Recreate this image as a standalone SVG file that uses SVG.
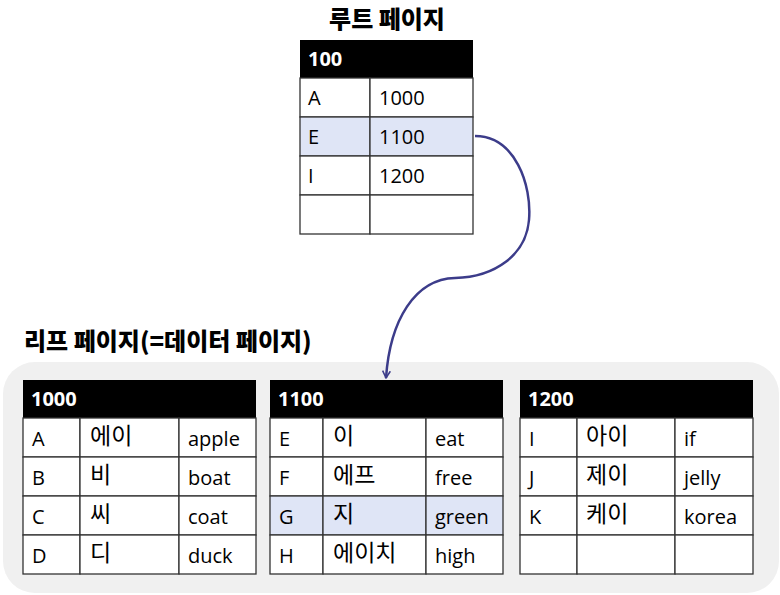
<svg xmlns="http://www.w3.org/2000/svg" width="780" height="595" viewBox="0 0 780 595">
<style>
.title{font-family:"Noto Sans CJK KR","Noto Sans",sans-serif;font-weight:900;font-size:24px;fill:#000}
.hd{fill:#000}
.hdt{font-family:"Open Sans","Noto Sans",sans-serif;font-weight:bold;font-size:20px;fill:#fff}
.cell{fill:#fff;stroke:#333;stroke-width:1.3}
.hl{fill:#dfe5f6;stroke:#333;stroke-width:1.3}
.t{font-family:"Open Sans","Noto Sans",sans-serif;font-size:20px;fill:#000}
.k{font-family:"Noto Sans CJK KR",sans-serif;font-size:23px;fill:#000}
.conn{fill:none;stroke:#3c3c8a;stroke-width:2.5}
</style>
<defs>
<marker id="arr" viewBox="0 0 14 14" refX="12" refY="7" markerWidth="9" markerHeight="9" orient="auto" markerUnits="userSpaceOnUse">
<path d="M1,1 L12,7 L1,13" fill="none" stroke="#3c3c8a" stroke-width="2.4"/>
</marker>
</defs>
<rect x="0" y="0" width="780" height="595" fill="#fff"/>

<text class="title" x="387" y="28" text-anchor="middle">루트 페이지</text>
<text class="title" x="24" y="350">리프 페이지(=데이터 페이지)</text>

<rect x="3" y="362" width="776" height="231" rx="32" fill="#f0f0f0"/>

<g id="root">
<rect class="hd" x="300" y="40" width="173" height="38"/>
<text class="hdt" x="308" y="66">100</text>
<rect class="cell" x="300" y="78" width="70" height="39"/><rect class="cell" x="370" y="78" width="103" height="39"/>
<rect class="hl" x="300" y="117" width="70" height="39"/><rect class="hl" x="370" y="117" width="103" height="39"/>
<rect class="cell" x="300" y="156" width="70" height="39"/><rect class="cell" x="370" y="156" width="103" height="39"/>
<rect class="cell" x="300" y="195" width="70" height="39"/><rect class="cell" x="370" y="195" width="103" height="39"/>
<text class="t" x="308" y="105">A</text><text class="t" x="379" y="105">1000</text>
<text class="t" x="308" y="144">E</text><text class="t" x="379" y="144">1100</text>
<text class="t" x="308" y="183">I</text><text class="t" x="379" y="183">1200</text>
</g>

<g id="leaf1000">
<rect class="hd" x="23" y="380" width="233" height="38"/>
<text class="hdt" x="31" y="406">1000</text>
<rect class="cell" x="23" y="418" width="57" height="39"/><rect class="cell" x="80" y="418" width="99" height="39"/><rect class="cell" x="179" y="418" width="77" height="39"/>
<rect class="cell" x="23" y="457" width="57" height="39"/><rect class="cell" x="80" y="457" width="99" height="39"/><rect class="cell" x="179" y="457" width="77" height="39"/>
<rect class="cell" x="23" y="496" width="57" height="39"/><rect class="cell" x="80" y="496" width="99" height="39"/><rect class="cell" x="179" y="496" width="77" height="39"/>
<rect class="cell" x="23" y="535" width="57" height="39"/><rect class="cell" x="80" y="535" width="99" height="39"/><rect class="cell" x="179" y="535" width="77" height="39"/>
<text class="t" x="32" y="446">A</text><text class="k" x="90" y="444">에이</text><text class="t" x="188" y="446">apple</text>
<text class="t" x="32" y="485">B</text><text class="k" x="90" y="483">비</text><text class="t" x="188" y="485">boat</text>
<text class="t" x="32" y="524">C</text><text class="k" x="90" y="522">씨</text><text class="t" x="188" y="524">coat</text>
<text class="t" x="32" y="563">D</text><text class="k" x="90" y="561">디</text><text class="t" x="188" y="563">duck</text>
</g>

<g id="leaf1100">
<rect class="hd" x="270" y="380" width="233" height="38"/>
<text class="hdt" x="278" y="406">1100</text>
<rect class="cell" x="270" y="418" width="53" height="39"/><rect class="cell" x="323" y="418" width="103" height="39"/><rect class="cell" x="426" y="418" width="77" height="39"/>
<rect class="cell" x="270" y="457" width="53" height="39"/><rect class="cell" x="323" y="457" width="103" height="39"/><rect class="cell" x="426" y="457" width="77" height="39"/>
<rect class="hl" x="270" y="496" width="53" height="39"/><rect class="hl" x="323" y="496" width="103" height="39"/><rect class="hl" x="426" y="496" width="77" height="39"/>
<rect class="cell" x="270" y="535" width="53" height="39"/><rect class="cell" x="323" y="535" width="103" height="39"/><rect class="cell" x="426" y="535" width="77" height="39"/>
<text class="t" x="279" y="446">E</text><text class="k" x="333" y="444">이</text><text class="t" x="435" y="446">eat</text>
<text class="t" x="279" y="485">F</text><text class="k" x="333" y="483">에프</text><text class="t" x="435" y="485">free</text>
<text class="t" x="279" y="524">G</text><text class="k" x="333" y="522">지</text><text class="t" x="435" y="524">green</text>
<text class="t" x="279" y="563">H</text><text class="k" x="333" y="561">에이치</text><text class="t" x="435" y="563">high</text>
</g>

<g id="leaf1200">
<rect class="hd" x="520" y="380" width="233" height="38"/>
<text class="hdt" x="528" y="406">1200</text>
<rect class="cell" x="520" y="418" width="57" height="39"/><rect class="cell" x="577" y="418" width="98" height="39"/><rect class="cell" x="675" y="418" width="78" height="39"/>
<rect class="cell" x="520" y="457" width="57" height="39"/><rect class="cell" x="577" y="457" width="98" height="39"/><rect class="cell" x="675" y="457" width="78" height="39"/>
<rect class="cell" x="520" y="496" width="57" height="39"/><rect class="cell" x="577" y="496" width="98" height="39"/><rect class="cell" x="675" y="496" width="78" height="39"/>
<rect class="cell" x="520" y="535" width="57" height="39"/><rect class="cell" x="577" y="535" width="98" height="39"/><rect class="cell" x="675" y="535" width="78" height="39"/>
<text class="t" x="529" y="446">I</text><text class="k" x="586" y="444">아이</text><text class="t" x="684" y="446">if</text>
<text class="t" x="529" y="485">J</text><text class="k" x="586" y="483">제이</text><text class="t" x="684" y="485">jelly</text>
<text class="t" x="529" y="524">K</text><text class="k" x="586" y="522">케이</text><text class="t" x="684" y="524">korea</text>
</g>

<g id="connectors">
<path class="conn" marker-end="url(#arr)" d="M475,136 C515,136 532,185 529,220 C526,255 495,277 455,278 C415,279 390,320 386,378"/>
</g>
</svg>
